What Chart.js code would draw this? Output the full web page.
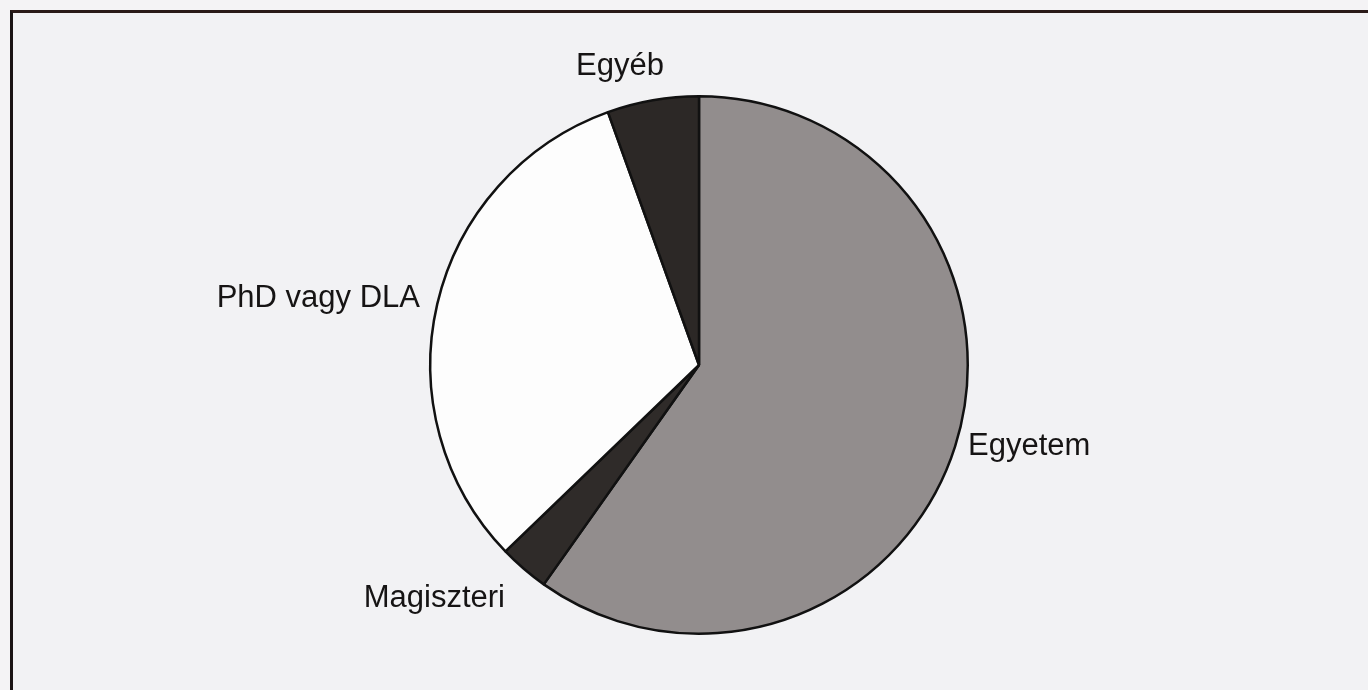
<!DOCTYPE html>
<html>
<head>
<meta charset="utf-8">
<script src="https://cdn.jsdelivr.net/npm/chart.js@4.4.0/dist/chart.umd.min.js"></script>
<style>
    html, body { margin: 0; padding: 0; background: #f4f3f5; }
    #wrap { position: relative; width: 1368px; height: 690px; overflow: hidden; }
    #frame {
        position: absolute; left: 10px; top: 10px; width: 1400px; height: 700px;
        border-left: 3px solid #1a1414; border-top: 3px solid #2a1a18;
        background: #f2f2f4;
    }
    #graficaPie { position: absolute; left: 0; top: 0; }
</style>
</head>
<body>
<div id="wrap">
    <div id="frame"></div>
    <canvas id="graficaPie" width="1368" height="690"></canvas>
</div>
<script>
// datos (% de respuestas)
const categorias = ['Egyetem', 'Magiszteri', 'PhD vagy DLA', 'Egyéb'];
const valores = [59.8, 3.0, 31.7, 5.5];
const colores = ['#928d8d', '#2f2b29', '#fdfdfd', '#2c2826'];

// posicion de cada etiqueta respecto al centro del pastel: [dx, dy, alineacion]
const posEtiquetas = [
    [269, 81, 'left'],
    [-194, 233, 'right'],
    [-279, -67, 'right'],
    [-79, -299, 'center']
];

const etiquetasPlugin = {
    id: 'etiquetas',
    afterDatasetsDraw(chart) {
        const ctx = chart.ctx;
        const arcos = chart.getDatasetMeta(0).data;
        ctx.save();
        ctx.font = '31px "Liberation Sans", Arial, sans-serif';
        ctx.fillStyle = '#161414';
        ctx.textBaseline = 'middle';
        arcos.forEach(function (arco, i) {
            const p = posEtiquetas[i];
            ctx.textAlign = p[2];
            ctx.fillText(categorias[i], arco.x + p[0], arco.y + p[1]);
        });
        ctx.restore();
    }
};

const ctx = document.getElementById('graficaPie').getContext('2d');
new Chart(ctx, {
    type: 'pie',
    data: {
        labels: categorias,
        datasets: [{
            data: valores,
            backgroundColor: colores,
            borderColor: '#111111',
            borderWidth: 2.5
        }]
    },
    options: {
        responsive: false,
        animation: false,
        layout: {
            padding: { top: 95, bottom: 55, left: 30, right: 0 }
        },
        plugins: {
            legend: { display: false },
            tooltip: { enabled: false }
        }
    },
    plugins: [etiquetasPlugin]
});
</script>
</body>
</html>
